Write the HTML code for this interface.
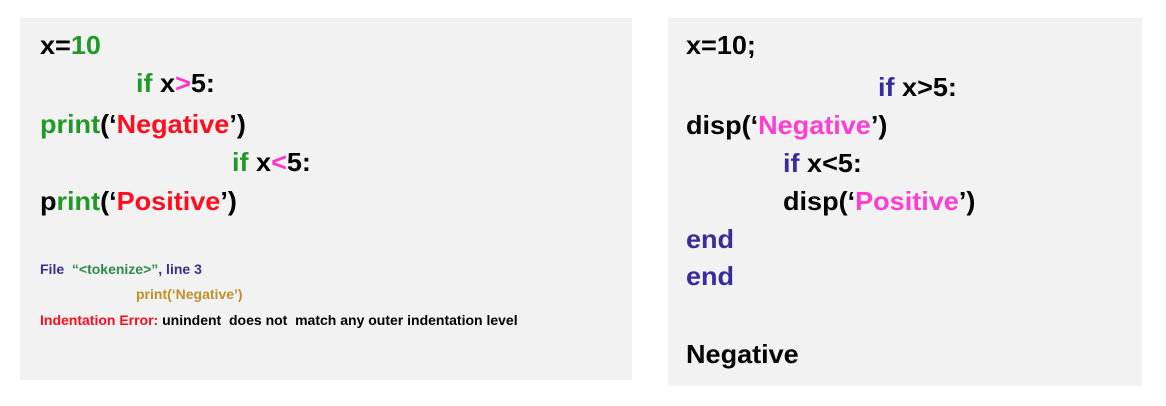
<!DOCTYPE html>
<html><head><style>
body{margin:0;width:1166px;height:406px;background:#fff;position:relative;overflow:hidden;font-family:"Liberation Sans",sans-serif;font-weight:bold}
.p{position:absolute;background:#f2f2f2}
.t{position:absolute;white-space:pre;font-size:26px;line-height:24px;height:24px;transform:scaleX(1.04);transform-origin:left center;color:#000}
.s{position:absolute;white-space:pre;font-size:14px;line-height:16px;transform:scaleX(1.0);transform-origin:left center}
.g{color:#1f9a27}.r{color:#ff0d1f}.m{color:#ff33cc}.u{color:#3b2b9b}.pk{color:#ff3dd2}.gd{color:#c0902a}.gn{color:#2e8b4a}
</style></head><body>
<div class="p" style="left:20px;top:18px;width:612px;height:362px"></div>
<div class="p" style="left:668px;top:18px;width:474px;height:368px"></div>

<div class="t" style="left:40px;top:33px">x=<span class="g">10</span></div>
<div class="t" style="left:136px;top:71px"><span class="g">if</span> x<span class="m">&gt;</span>5:</div>
<div class="t" style="left:40px;top:112px"><span class="g">print</span>(‘<span class="r">Negative</span>’)</div>
<div class="t" style="left:232px;top:150px"><span class="g">if</span> x<span class="m">&lt;</span>5:</div>
<div class="t" style="left:40px;top:189px">p<span class="g">rint</span>(‘<span class="r">Positive</span>’)</div>

<div class="s" style="left:40px;top:261px"><span class="u">File</span>  <span class="gn">“&lt;tokenize&gt;”</span><span class="u">, line 3</span></div>
<div class="s" style="left:136px;top:286px" ><span class="gd">print(‘Negative’)</span></div>
<div class="s" style="left:40px;top:312px"><span class="r">Indentation Error:</span> unindent  does not  match any outer indentation level</div>

<div class="t" style="left:686px;top:33px">x=10;</div>
<div class="t" style="left:878px;top:75px"><span class="u">if</span> x&gt;5:</div>
<div class="t" style="left:686px;top:113px">disp(‘<span class="pk">Negative</span>’)</div>
<div class="t" style="left:783px;top:151px"><span class="u">if</span> x&lt;5:</div>
<div class="t" style="left:783px;top:189px">disp(‘<span class="pk">Positive</span>’)</div>
<div class="t u" style="left:686px;top:227px">end</div>
<div class="t u" style="left:686px;top:264px">end</div>
<div class="t" style="left:686px;top:342px">Negative</div>
</body></html>
